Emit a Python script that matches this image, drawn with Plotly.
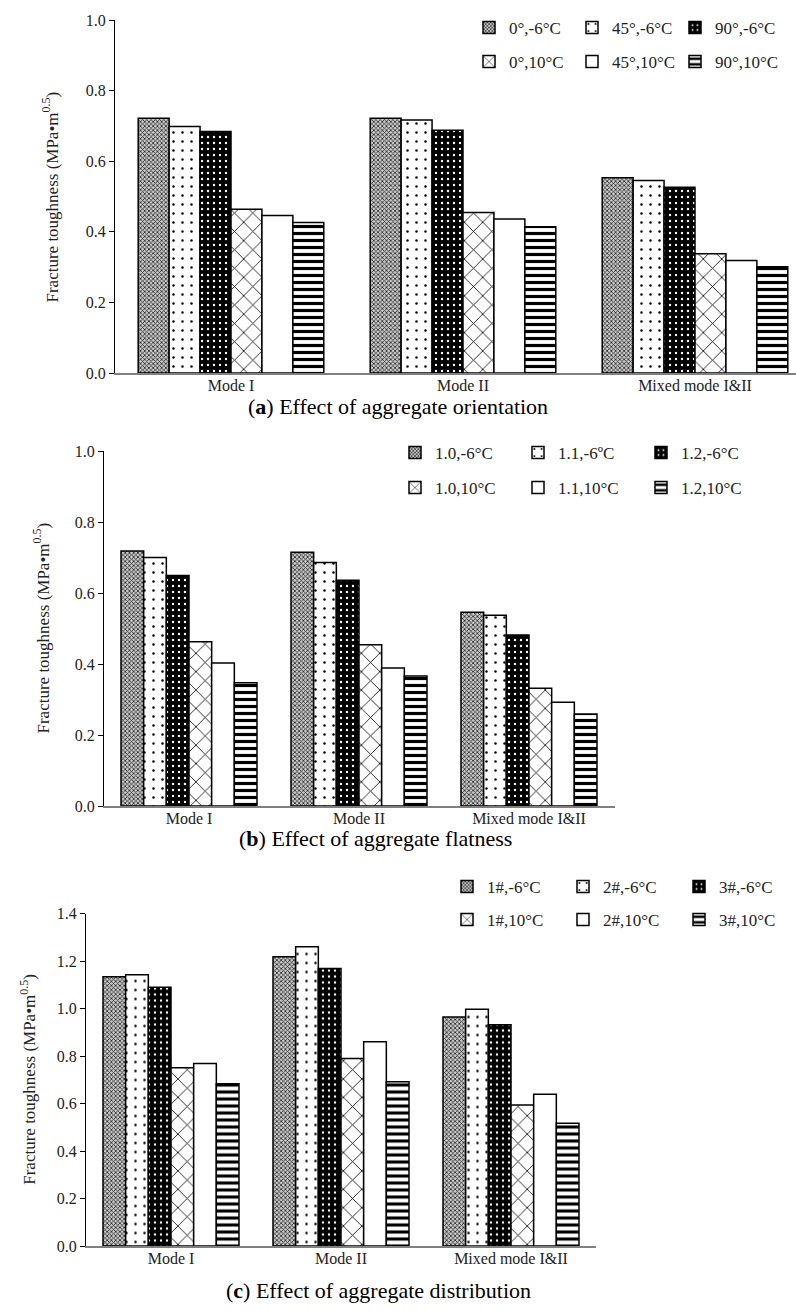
import plotly.graph_objects as go

W, H = 796, 1311

categories = ["Mode I", "Mode II", "Mixed mode I&II"]

names_a = ["0°,-6°C", "45°,-6°C", "90°,-6°C", "0°,10°C", "45°,10°C", "90°,10°C"]
names_b = ["1.0,-6°C", "1.1,-6ºC", "1.2,-6°C", "1.0,10°C", "1.1,10°C", "1.2,10°C"]
names_c = ["1#,-6°C", "2#,-6°C", "3#,-6°C", "1#,10°C", "2#,10°C", "3#,10°C"]

# panel (a) Effect of aggregate orientation
a_s1 = [0.722, 0.722, 0.553]
a_s2 = [0.698, 0.717, 0.545]
a_s3 = [0.684, 0.688, 0.526]
a_s4 = [0.464, 0.455, 0.338]
a_s5 = [0.446, 0.436, 0.319]
a_s6 = [0.426, 0.414, 0.301]

# panel (b) Effect of aggregate flatness
b_s1 = [0.718, 0.715, 0.546]
b_s2 = [0.700, 0.686, 0.537]
b_s3 = [0.649, 0.636, 0.482]
b_s4 = [0.463, 0.454, 0.332]
b_s5 = [0.403, 0.389, 0.292]
b_s6 = [0.347, 0.366, 0.259]

# panel (c) Effect of aggregate distribution
c_s1 = [1.134, 1.218, 0.964]
c_s2 = [1.142, 1.260, 0.997]
c_s3 = [1.089, 1.168, 0.932]
c_s4 = [0.751, 0.789, 0.594]
c_s5 = [0.768, 0.860, 0.639]
c_s6 = [0.683, 0.692, 0.517]

yticks_ab = [0.0, 0.2, 0.4, 0.6, 0.8, 1.0]
yticks_c = [0.0, 0.2, 0.4, 0.6, 0.8, 1.0, 1.2, 1.4]

captions = ["(<b>a</b>) Effect of aggregate orientation",
            "(<b>b</b>) Effect of aggregate flatness",
            "(<b>c</b>) Effect of aggregate distribution"]

SERIF = "Liberation Serif, Times New Roman, serif"


def px(x):
    return min(1.0, max(0.0, x / W))


def py(y):
    return min(1.0, max(0.0, 1 - y / H))


patterns = [
    dict(shape="x", size=3, solidity=0.45, fgcolor="#222", bgcolor="#c8c8c8", fillmode="replace"),
    dict(shape=".", size=9, solidity=0.06, fgcolor="black", bgcolor="white", fillmode="replace"),
    dict(shape=".", size=6, solidity=0.12, fgcolor="white", bgcolor="black", fillmode="replace"),
    dict(shape="x", size=13, solidity=0.12, fgcolor="black", bgcolor="white", fillmode="replace"),
    dict(shape="", fgcolor="black", bgcolor="white"),
    dict(shape="-", size=7, solidity=0.45, fgcolor="black", bgcolor="white", fillmode="replace"),
]

fig = go.Figure()

panels = [
    (names_a, [a_s1, a_s2, a_s3, a_s4, a_s5, a_s6], "x", "y", ("legend", "legend2")),
    (names_b, [b_s1, b_s2, b_s3, b_s4, b_s5, b_s6], "x2", "y2", ("legend3", "legend4")),
    (names_c, [c_s1, c_s2, c_s3, c_s4, c_s5, c_s6], "x3", "y3", ("legend5", "legend6")),
]

for names, series, xa, ya, legs in panels:
    for i, (nm, vals) in enumerate(zip(names, series)):
        fig.add_trace(go.Bar(
            x=categories, y=vals, name=nm, xaxis=xa, yaxis=ya,
            legend=legs[0] if i < 3 else legs[1],
            marker=dict(color="white", pattern=patterns[i],
                        line=dict(color="black", width=1.5)),
        ))

yaxis_common = dict(showline=True, linecolor="black", linewidth=1, ticks="outside",
                    ticklen=5, tickcolor="black", showgrid=False, zeroline=False,
                    tickformat=".1f", tickfont=dict(family=SERIF, size=16, color="#222"))
xaxis_common = dict(showline=True, linecolor="#808080", linewidth=1.5, ticks="",
                    showgrid=False, zeroline=False, type="category",
                    ticklabelstandoff=-3,
                    tickfont=dict(family=SERIF, size=16, color="#222"))

# pixel geometry of each panel: (x_left, x_right, y_top, y_bottom, px per category)
geo = [
    (115, 796, 20, 373, 232),
    (104, 615, 451, 806, 170),
    (86, 596, 913.5, 1246, 170),
]
yranges = [[0, 1.0], [0, 1.0], [0, 1.4]]
ytickvals = [yticks_ab, yticks_ab, yticks_c]

layout = dict(width=W, height=H,
              margin=dict(l=0, r=0, t=0, b=0, pad=0, autoexpand=False),
              paper_bgcolor="white", plot_bgcolor="white",
              barmode="group", bargap=0.2, bargroupgap=0,
              font=dict(family=SERIF, color="#222"))

for k, (xl, xr, yt, yb, cw) in enumerate(geo):
    sfx = "" if k == 0 else str(k + 1)
    d0, d1 = px(xl), px(xr)
    xmax = -0.5 + (d1 - d0) * W / cw
    layout["xaxis" + sfx] = dict(xaxis_common, domain=[d0, d1],
                                 range=[-0.5, xmax], anchor="y" + sfx)
    layout["yaxis" + sfx] = dict(yaxis_common, domain=[py(yb), py(yt)],
                                 range=yranges[k], tickvals=ytickvals[k],
                                 anchor="x" + sfx)

# legends: two rows of three per panel; (text start x, row centre y, entry spacing)
leg_pos = [
    (514, 28, 98), (514, 62, 98),
    (440, 453, 118), (440, 488, 118),
    (492, 887, 111), (492, 920, 111),
]
for j, (tx, ly, sp) in enumerate(leg_pos):
    key = "legend" if j == 0 else "legend" + str(j + 1)
    layout[key] = dict(orientation="h", x=px(tx - 45), xanchor="left",
                       y=py(ly), yanchor="middle", entrywidth=sp - 40,
                       itemwidth=30, bgcolor="rgba(0,0,0,0)",
                       font=dict(family=SERIF, size=17, color="#222"),
                       traceorder="normal")

annotations = []
ytitle = "Fracture toughness (MPa•m<sup>0.5</sup>)"
title_x = [50, 42, 28]
for k, (xl, xr, yt, yb, cw) in enumerate(geo):
    annotations.append(dict(text=ytitle, textangle=-90, x=px(title_x[k]),
                            y=py((yt + yb) / 2), xref="paper", yref="paper",
                            showarrow=False, xanchor="center", yanchor="middle",
                            font=dict(family=SERIF, size=17, color="#222")))
cap_y = [406, 838, 1290]
cap_x = [398, 375, 378]
for k in range(3):
    annotations.append(dict(text=captions[k], x=px(cap_x[k]), y=py(cap_y[k]),
                            xref="paper", yref="paper", showarrow=False,
                            xanchor="center", yanchor="middle",
                            font=dict(family=SERIF, size=22, color="black")))
layout["annotations"] = annotations

fig.update_layout(**layout)
fig.write_html("out.html")
